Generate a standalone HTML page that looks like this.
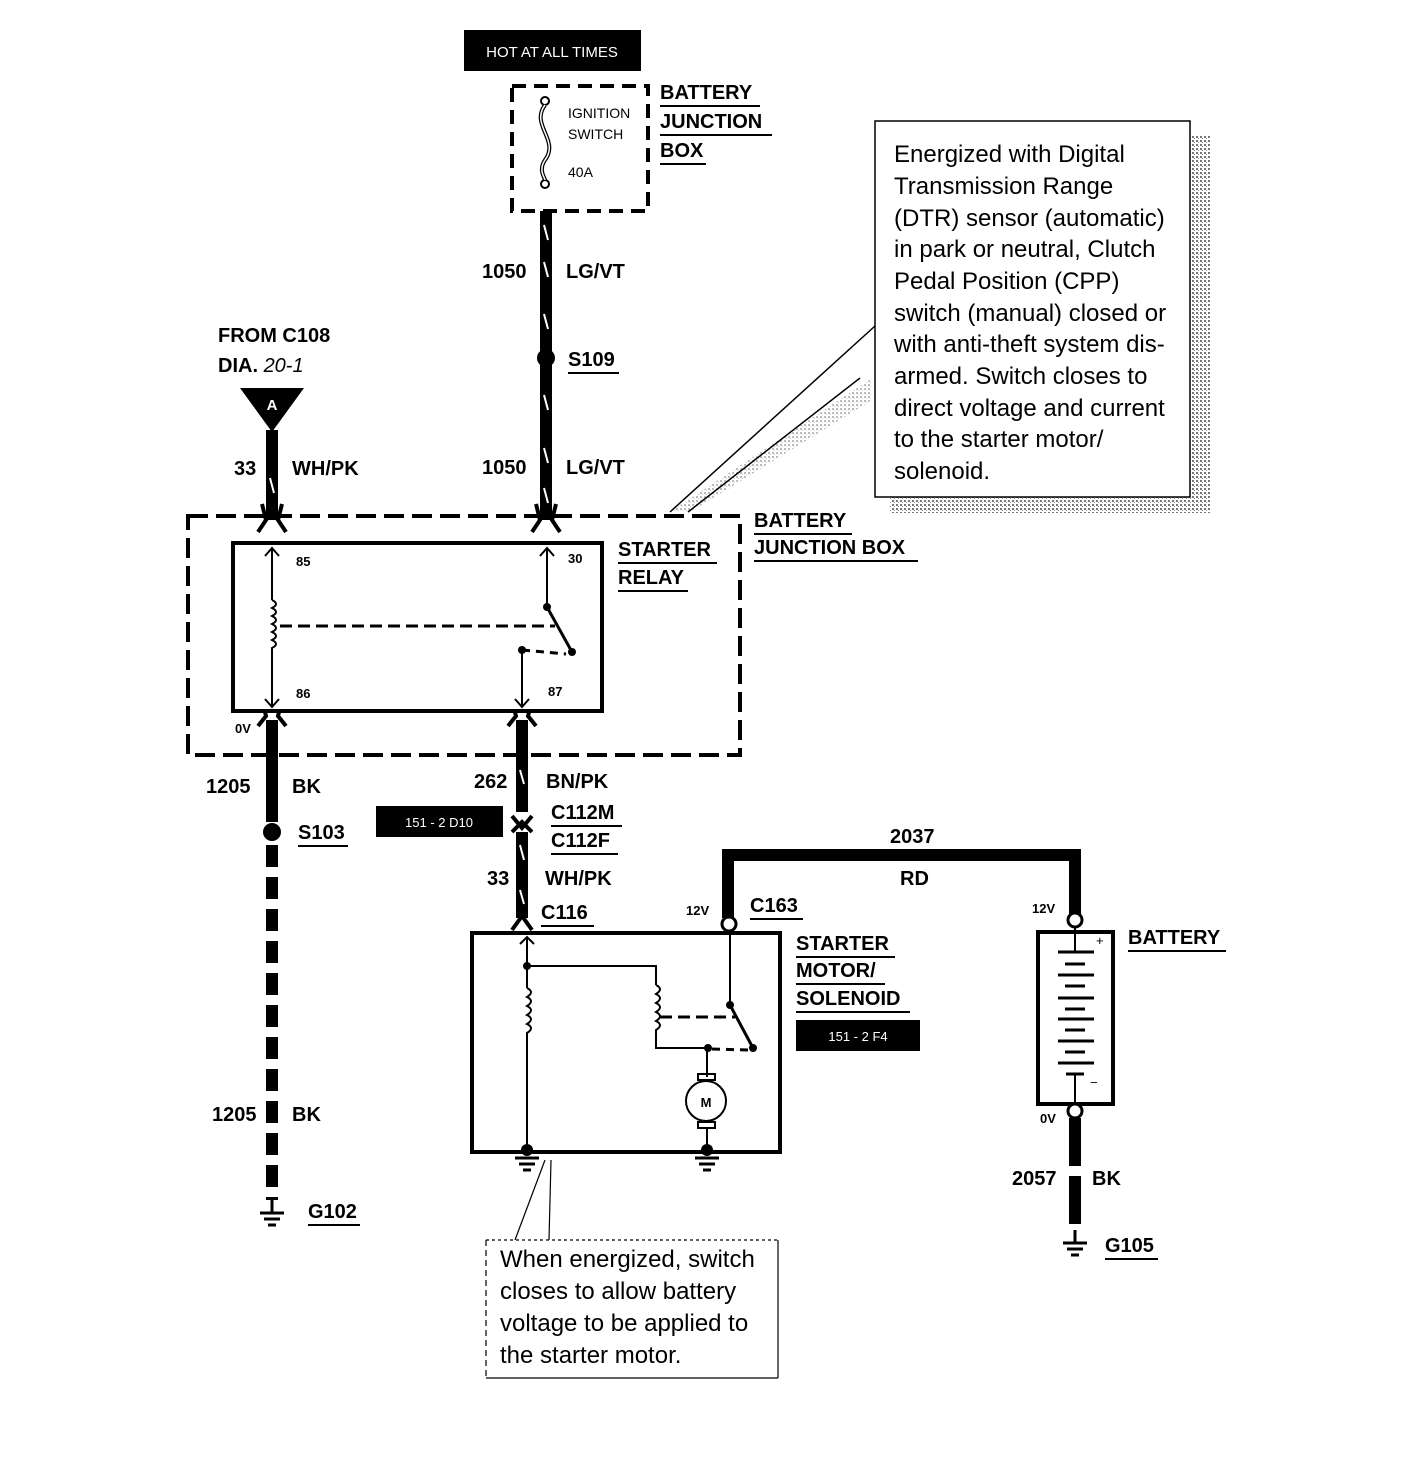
<!DOCTYPE html><html><head><style>body{margin:0;background:#fff}svg{display:block}text{font-family:"Liberation Sans",sans-serif}</style></head><body>
<svg width="1424" height="1472" viewBox="0 0 1424 1472" xmlns="http://www.w3.org/2000/svg">
<defs>
<pattern id="dt" width="4" height="4" patternUnits="userSpaceOnUse"><rect width="4" height="4" fill="#fff"/><rect width="2" height="2" fill="#777"/><rect x="2" y="2" width="1" height="1" fill="#999"/></pattern>
</defs>
<g font-weight="bold" font-size="20" fill="#000">
<rect x="464" y="30" width="177" height="41" fill="#000"/>
<text x="552" y="57" fill="#fff" font-size="15" font-weight="normal" text-anchor="middle">HOT AT ALL TIMES</text>
<rect x="512" y="86" width="136" height="125" fill="none" stroke="#000" stroke-width="4" stroke-dasharray="14,8"/>
<circle cx="545" cy="101" r="4" fill="#fff" stroke="#000" stroke-width="2"/>
<circle cx="545" cy="184" r="4" fill="#fff" stroke="#000" stroke-width="2"/>
<path d="M545 105 C530 125,560 140,545 160 C538 170,545 178,545 180" fill="none" stroke="#000" stroke-width="4"/>
<path d="M545 105 C530 125,560 140,545 160 C538 170,545 178,545 180" fill="none" stroke="#fff" stroke-width="1.5"/>
<text x="568" y="118" font-size="14" font-weight="normal">IGNITION</text>
<text x="568" y="139" font-size="14" font-weight="normal">SWITCH</text>
<text x="568" y="177" font-size="14" font-weight="normal">40A</text>
<text x="660" y="99">BATTERY</text><text x="660" y="128">JUNCTION</text><text x="660" y="157">BOX</text>
<line x1="660" y1="106" x2="760" y2="106" stroke="#000" stroke-width="2"/><line x1="660" y1="135" x2="772" y2="135" stroke="#000" stroke-width="2"/><line x1="660" y1="164" x2="706" y2="164" stroke="#000" stroke-width="2"/>
<line x1="546" y1="211" x2="546" y2="520" stroke="#000" stroke-width="12"/>
<g stroke="#fff" stroke-width="2"><line x1="544" y1="225" x2="548" y2="240"/><line x1="544" y1="262" x2="548" y2="277"/><line x1="544" y1="314" x2="548" y2="329"/><line x1="544" y1="395" x2="548" y2="410"/><line x1="544" y1="448" x2="548" y2="463"/><line x1="544" y1="488" x2="548" y2="503"/></g>
<circle cx="546" cy="358" r="9"/>
<text x="482" y="278">1050</text><text x="566" y="278">LG/VT</text>
<text x="568" y="366">S109</text><line x1="568" y1="373" x2="619" y2="373" stroke="#000" stroke-width="2"/>
<text x="482" y="474">1050</text><text x="566" y="474">LG/VT</text>
<text x="218" y="342">FROM C108</text><text x="218" y="372">DIA. <tspan font-style="italic" font-weight="normal">20-1</tspan></text>
<polygon points="240,388 304,388 272,432" fill="#000"/>
<text x="272" y="410" fill="#fff" font-size="15" text-anchor="middle">A</text>
<line x1="272" y1="430" x2="272" y2="520" stroke="#000" stroke-width="12"/>
<g stroke="#fff" stroke-width="2"><line x1="270" y1="478" x2="274" y2="493"/></g>
<text x="234" y="475">33</text><text x="292" y="475">WH/PK</text>
<rect x="188" y="516" width="552" height="239" fill="none" stroke="#000" stroke-width="4" stroke-dasharray="20,8"/>
<g stroke="#000" stroke-width="4" fill="none">
<path d="M262 504 L266 520 L258 532 M282 504 L278 520 L286 532"/>
<path d="M536 504 L540 520 L532 532 M556 504 L552 520 L560 532"/>
<path d="M258 726 L266 716 L262 700 M286 726 L278 716 L282 700"/>
<path d="M508 726 L516 716 L512 702 M536 726 L528 716 L532 702"/>
</g>
<line x1="272" y1="720" x2="272" y2="760" stroke="#000" stroke-width="12"/>
<line x1="522" y1="720" x2="522" y2="760" stroke="#000" stroke-width="12"/>
<rect x="233" y="543" width="369" height="168" fill="#fff" stroke="#000" stroke-width="4"/>
<g stroke="#000" stroke-width="2" fill="none">
<line x1="272" y1="548" x2="272" y2="600"/><line x1="272" y1="650" x2="272" y2="706"/>
<path d="M272 600 q8 4 0 8 q8 4 0 8 q8 4 0 8 q8 4 0 8 q8 4 0 8 q8 4 0 8 q0 2 0 2"/>
<path d="M265 556 L272 548 L279 556 M265 699 L272 707 L279 699"/>
<line x1="547" y1="548" x2="547" y2="607"/><path d="M540 556 L547 548 L554 556"/>
<line x1="547" y1="607" x2="572" y2="652" stroke-width="3"/>
<line x1="280" y1="626" x2="555" y2="626" stroke-dasharray="12,6" stroke-width="3"/>
<line x1="522" y1="650" x2="566" y2="654" stroke-dasharray="8,6" stroke-width="3"/>
<line x1="522" y1="650" x2="522" y2="706"/><path d="M515 699 L522 707 L529 699"/>
</g>
<circle cx="547" cy="607" r="4"/><circle cx="572" cy="652" r="4"/><circle cx="522" cy="650" r="4"/>
<text x="296" y="566" font-size="13">85</text><text x="568" y="563" font-size="13">30</text>
<text x="296" y="698" font-size="13">86</text><text x="548" y="696" font-size="13">87</text>
<text x="235" y="733" font-size="13">0V</text>
<text x="618" y="556">STARTER</text><text x="618" y="584">RELAY</text>
<line x1="618" y1="563" x2="717" y2="563" stroke="#000" stroke-width="2"/><line x1="618" y1="591" x2="688" y2="591" stroke="#000" stroke-width="2"/>
<text x="754" y="527">BATTERY</text><text x="754" y="554">JUNCTION BOX</text>
<line x1="754" y1="534" x2="852" y2="534" stroke="#000" stroke-width="2"/><line x1="754" y1="561" x2="918" y2="561" stroke="#000" stroke-width="2"/>
<line x1="272" y1="755" x2="272" y2="822" stroke="#000" stroke-width="12"/>
<circle cx="272" cy="832" r="9"/>
<line x1="272" y1="845" x2="272" y2="1200" stroke="#000" stroke-width="12" stroke-dasharray="22,10"/>
<text x="206" y="793">1205</text><text x="292" y="793">BK</text>
<text x="298" y="839">S103</text><line x1="298" y1="846" x2="348" y2="846" stroke="#000" stroke-width="2"/>
<text x="212" y="1121">1205</text><text x="292" y="1121">BK</text>
<g stroke="#000" stroke-width="3"><line x1="272" y1="1200" x2="272" y2="1212"/><line x1="260" y1="1213" x2="284" y2="1213"/><line x1="264" y1="1219" x2="280" y2="1219"/><line x1="268" y1="1225" x2="276" y2="1225"/></g>
<text x="308" y="1218">G102</text><line x1="308" y1="1225" x2="360" y2="1225" stroke="#000" stroke-width="2"/>
<line x1="522" y1="755" x2="522" y2="812" stroke="#000" stroke-width="12"/>
<g stroke="#000" stroke-width="4" fill="none"><path d="M512 816 L522 828 L532 816"/><path d="M512 832 L522 822 L532 832"/></g>
<line x1="522" y1="832" x2="522" y2="918" stroke="#000" stroke-width="12"/>
<g stroke="#fff" stroke-width="2"><line x1="520" y1="770" x2="524" y2="784"/><line x1="520" y1="845" x2="524" y2="860"/><line x1="520" y1="890" x2="524" y2="904"/></g>
<path d="M512 930 L522 916 L532 930" stroke="#000" stroke-width="4" fill="none"/>
<text x="474" y="788">262</text><text x="546" y="788">BN/PK</text>
<text x="551" y="819">C112M</text><text x="551" y="847">C112F</text>
<line x1="551" y1="826" x2="622" y2="826" stroke="#000" stroke-width="2"/><line x1="551" y1="854" x2="618" y2="854" stroke="#000" stroke-width="2"/>
<rect x="376" y="806" width="127" height="31"/>
<text x="439" y="827" fill="#fff" font-size="13" font-weight="normal" text-anchor="middle">151 - 2 D10</text>
<text x="487" y="885">33</text><text x="545" y="885">WH/PK</text>
<text x="541" y="919">C116</text><line x1="541" y1="926" x2="594" y2="926" stroke="#000" stroke-width="2"/>
<rect x="472" y="933" width="308" height="219" fill="#fff" stroke="#000" stroke-width="4"/>
<g stroke="#000" stroke-width="2" fill="none">
<line x1="527" y1="937" x2="527" y2="988"/><line x1="527" y1="1040" x2="527" y2="1150"/>
<path d="M520 944 L527 937 L534 944"/>
<path d="M527 988 q8 4 0 9 q8 4 0 9 q8 4 0 9 q8 4 0 9 q8 4 0 9 q0 3 0 7"/>
<path d="M527 966 L656 966 L656 985"/>
<path d="M656 985 q8 4 0 9 q8 4 0 9 q8 4 0 9 q8 4 0 9 q8 4 0 9 L656 1048 L708 1048"/>
<line x1="660" y1="1017" x2="735" y2="1017" stroke-dasharray="12,6" stroke-width="3"/>
<line x1="730" y1="930" x2="730" y2="1005"/>
<line x1="730" y1="1005" x2="753" y2="1048" stroke-width="3"/>
<line x1="712" y1="1049" x2="750" y2="1050" stroke-dasharray="8,6" stroke-width="3"/>
<line x1="707" y1="1048" x2="707" y2="1077"/>
<circle cx="706" cy="1101" r="20"/>
<rect x="698" y="1074" width="17" height="6"/><rect x="698" y="1122" width="17" height="6"/>
<line x1="707" y1="1128" x2="707" y2="1150"/>
</g>
<text x="706" y="1107" font-size="13" text-anchor="middle">M</text>
<circle cx="527" cy="966" r="4"/><circle cx="708" cy="1048" r="4"/><circle cx="730" cy="1005" r="4"/><circle cx="753" cy="1048" r="4"/>
<circle cx="527" cy="1150" r="6"/><circle cx="707" cy="1150" r="6"/>
<g stroke="#000" stroke-width="3"><line x1="515" y1="1158" x2="539" y2="1158"/><line x1="519" y1="1164" x2="535" y2="1164"/><line x1="523" y1="1170" x2="531" y2="1170"/>
<line x1="695" y1="1158" x2="719" y2="1158"/><line x1="699" y1="1164" x2="715" y2="1164"/><line x1="703" y1="1170" x2="711" y2="1170"/></g>
<text x="796" y="950">STARTER</text><text x="796" y="977">MOTOR/</text><text x="796" y="1005">SOLENOID</text>
<line x1="796" y1="957" x2="895" y2="957" stroke="#000" stroke-width="2"/><line x1="796" y1="984" x2="885" y2="984" stroke="#000" stroke-width="2"/><line x1="796" y1="1012" x2="910" y2="1012" stroke="#000" stroke-width="2"/>
<rect x="796" y="1020" width="124" height="31"/>
<text x="858" y="1041" fill="#fff" font-size="13" font-weight="normal" text-anchor="middle">151 - 2 F4</text>
<path d="M728 918 L728 855 L1075 855 L1075 914" fill="none" stroke="#000" stroke-width="12"/>
<circle cx="729" cy="924" r="7" fill="#fff" stroke="#000" stroke-width="3"/>
<circle cx="1075" cy="920" r="7" fill="#fff" stroke="#000" stroke-width="3"/>
<text x="686" y="915" font-size="13">12V</text><text x="1032" y="913" font-size="13">12V</text>
<text x="750" y="912">C163</text><line x1="750" y1="919" x2="803" y2="919" stroke="#000" stroke-width="2"/>
<text x="890" y="843">2037</text><text x="900" y="885">RD</text>
<rect x="1038" y="932" width="75" height="172" fill="#fff" stroke="#000" stroke-width="4"/>
<line x1="1075" y1="927" x2="1075" y2="952" stroke="#000" stroke-width="2"/>
<g stroke="#000" stroke-width="3"><line x1="1058" y1="952" x2="1094" y2="952"/><line x1="1065" y1="964" x2="1085" y2="964"/><line x1="1058" y1="975" x2="1094" y2="975"/><line x1="1065" y1="986" x2="1085" y2="986"/><line x1="1058" y1="998" x2="1094" y2="998"/><line x1="1065" y1="1009" x2="1085" y2="1009"/><line x1="1058" y1="1019" x2="1094" y2="1019"/><line x1="1065" y1="1030" x2="1085" y2="1030"/><line x1="1058" y1="1041" x2="1094" y2="1041"/><line x1="1065" y1="1052" x2="1085" y2="1052"/><line x1="1058" y1="1063" x2="1094" y2="1063"/><line x1="1066" y1="1074" x2="1084" y2="1074"/></g>
<line x1="1075" y1="1074" x2="1075" y2="1104" stroke="#000" stroke-width="2"/>
<text x="1096" y="945" font-size="13" font-weight="normal">+</text><text x="1090" y="1087" font-size="13" font-weight="normal">−</text>
<text x="1128" y="944">BATTERY</text><line x1="1128" y1="951" x2="1226" y2="951" stroke="#000" stroke-width="2"/>
<circle cx="1075" cy="1111" r="7" fill="#fff" stroke="#000" stroke-width="3"/>
<text x="1040" y="1123" font-size="13">0V</text>
<line x1="1075" y1="1118" x2="1075" y2="1232" stroke="#000" stroke-width="12" stroke-dasharray="48,10"/>
<text x="1012" y="1185">2057</text><text x="1092" y="1185">BK</text>
<g stroke="#000" stroke-width="3"><line x1="1075" y1="1230" x2="1075" y2="1242"/><line x1="1063" y1="1243" x2="1087" y2="1243"/><line x1="1067" y1="1249" x2="1083" y2="1249"/><line x1="1071" y1="1255" x2="1079" y2="1255"/></g>
<text x="1105" y="1252">G105</text><line x1="1105" y1="1259" x2="1158" y2="1259" stroke="#000" stroke-width="2"/>
</g>
<rect x="1190" y="135" width="20" height="375" fill="url(#dt)"/>
<rect x="890" y="497" width="320" height="16" fill="url(#dt)"/>
<polygon points="670,512 872,378 872,400 690,512" fill="url(#dt)" opacity="0.5"/>
<rect x="875" y="121" width="315" height="376" fill="#fff" stroke="#000" stroke-width="1.5"/>
<g stroke="#000" stroke-width="1.5"><line x1="875" y1="326" x2="670" y2="512"/><line x1="860" y1="378" x2="688" y2="512"/></g>
<g font-size="24" fill="#000">
<text x="894" y="162">Energized with  Digital</text>
<text x="894" y="194">Transmission Range</text>
<text x="894" y="226">(DTR) sensor (automatic)</text>
<text x="894" y="257">in park or neutral, Clutch</text>
<text x="894" y="289">Pedal Position (CPP)</text>
<text x="894" y="321">switch (manual) closed or</text>
<text x="894" y="352">with anti-theft system dis-</text>
<text x="894" y="384">armed. Switch closes to</text>
<text x="894" y="416">direct voltage and current</text>
<text x="894" y="447">to the starter motor/</text>
<text x="894" y="479">solenoid.</text>
</g>
<g stroke="#000" stroke-width="1.2" fill="none">
<line x1="486" y1="1240" x2="486" y2="1378" stroke-dasharray="6,4"/>
<line x1="486" y1="1240" x2="778" y2="1240" stroke-dasharray="3,3"/>
<line x1="778" y1="1240" x2="778" y2="1378"/>
<line x1="486" y1="1378" x2="778" y2="1378"/>
<line x1="545" y1="1160" x2="515" y2="1240"/><line x1="551" y1="1160" x2="549" y2="1240"/>
</g>
<g font-size="24" fill="#000">
<text x="500" y="1267">When energized, switch</text>
<text x="500" y="1299">closes to allow battery</text>
<text x="500" y="1331">voltage to be applied to</text>
<text x="500" y="1363">the starter motor.</text>
</g>
</svg>
</body></html>
